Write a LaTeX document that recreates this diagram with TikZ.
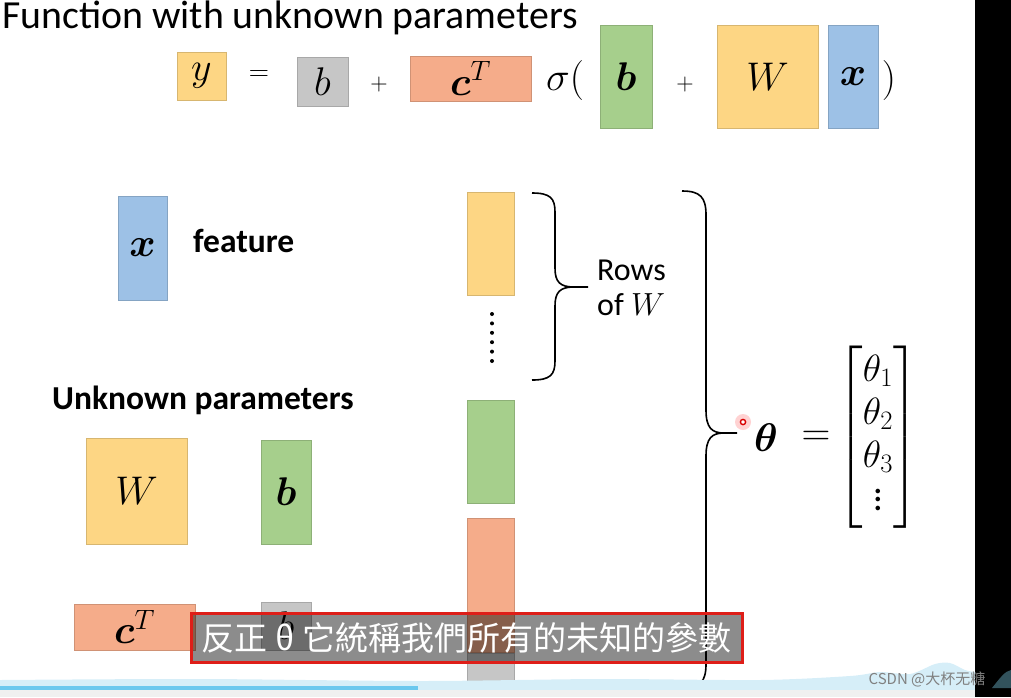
\RequirePackage{fix-cm}
\documentclass[tikz,border=0pt]{standalone}
\usepackage{amsmath, amssymb}
\usepackage{fontspec}
\setmainfont{Carlito}
\newfontfamily\cjktc{Noto Sans CJK TC}
\newfontfamily\cjksc{Noto Sans CJK SC}
\usepackage{xcolor}
\usepackage{tikz}
\usetikzlibrary{calc, positioning}

\definecolor{boxyellow}{RGB}{253,214,132}
\definecolor{boxblue}{RGB}{157,193,230}
\definecolor{boxgreen}{RGB}{166,207,140}
\definecolor{boxorange}{RGB}{245,172,138}
\definecolor{boxgray}{RGB}{198,198,198}
\definecolor{subred}{RGB}{222,30,24}
\definecolor{barblue}{RGB}{108,200,238}
\definecolor{bandblue}{RGB}{214,238,248}
\definecolor{hillslate}{RGB}{50,82,92}

\newcommand{\eqfont}{\fontsize{40}{44}\selectfont}
\newcommand{\tallvdots}{\vbox{\baselineskip=8.5pt \lineskiplimit=0pt \kern2pt\hbox{.}\hbox{.}\hbox{.}}}

\begin{document}
\begin{tikzpicture}[x=1pt, y=-1pt,
    pbox/.style={fill=#1, draw=#1!85!black, line width=0.8, inner sep=0pt, font=\eqfont},
    opsym/.style={inner sep=0pt, font=\fontsize{28}{32}\selectfont},
    plus/.style={inner sep=0pt, font=\fontsize{24}{28}\selectfont},
    lbl/.style={inner sep=0pt, anchor=base west, font=\fontsize{33.5}{38}\selectfont\bfseries}]
    \useasboundingbox (0,0) rectangle (1011,697);

    % Tiêu đề
    \node[anchor=base west, inner sep=0pt, font=\fontsize{39.8}{44}\selectfont] (title) at (2,28) {Function with unknown parameters};

    % Hàm số y = b + c^T sigma(b + W x)
    \node[pbox=boxyellow, minimum width=49, minimum height=48] (yv) at (201.5,76) {$y$};
    \node[opsym] (eqA) at (259,76) {$=$};
    \node[pbox=boxgray, minimum width=51, minimum height=49] (bs) at (322.5,81.5) {$b$};
    \node[plus] (plA) at (379,84) {$+$};
    \node[pbox=boxorange, minimum width=121, minimum height=45] (cT) at (470.5,78.5) {$\boldsymbol{c}^T$};
    \node[inner sep=0pt, font=\eqfont] (sig) at (565,80) {$\sigma($};
    \node[pbox=boxgreen, minimum width=52, minimum height=103] (bv) at (626,76.5) {$\boldsymbol{b}$};
    \node[plus] (plB) at (685,84) {$+$};
    \node[pbox=boxyellow, minimum width=101, minimum height=103] (Wm) at (767.5,76.5) {$W$};
    \node[pbox=boxblue, minimum width=50, minimum height=103] (xv) at (853,76.5) {$\boldsymbol{x}$};
    \node[inner sep=0pt, font=\eqfont] (rpar) at (889,80) {$)$};

    % Đặc trưng x
    \node[pbox=boxblue, minimum width=49, minimum height=104] (xf) at (142.5,248) {$\boldsymbol{x}$};
    \node[lbl] (feat) at (193,252) {feature};

    % Các tham số chưa biết
    \node[lbl] (unk) at (52,409) {Unknown parameters};
    \node[pbox=boxyellow, minimum width=101, minimum height=106] (Wl) at (136.5,491) {$W$};
    \node[pbox=boxgreen, minimum width=50, minimum height=104] (bl) at (286,492) {$\boldsymbol{b}$};
    \node[pbox=boxorange, minimum width=121, minimum height=46] (cl) at (134.5,627) {$\boldsymbol{c}^T$};
    \node[pbox=boxgray, minimum width=50, minimum height=48] (bsl) at (286,626) {$b$};

    % Cột các tham số xếp chồng
    \node[pbox=boxyellow, minimum width=47, minimum height=103] (rW) at (490.5,243.5) {};
    \foreach \k in {0,...,5}
        \fill (492,{314+9.4*\k}) circle (2);
    \node[pbox=boxgreen, minimum width=47, minimum height=103] (rb) at (490.5,451.5) {};
    \node[pbox=boxorange, minimum width=47, minimum height=134] (rc) at (490.5,585) {};
    \node[pbox=boxgray, minimum width=47, minimum height=42] (rbs) at (490.5,674) {};

    % Ngoặc nhỏ: các hàng của W
    \draw[line width=1.6] (532,193) .. controls (550,193) and (555,198) .. (555,212)
        -- (555,268) .. controls (555,282) and (560,287) .. (574,287) -- (588,287);
    \draw[line width=1.6] (574,287) .. controls (560,287) and (555,292) .. (555,306)
        -- (555,361) .. controls (555,375) and (550,380) .. (532,380);
    \node[anchor=base west, inner sep=0pt, font=\fontsize{32}{36}\selectfont] (rows) at (597,280) {Rows};
    \node[anchor=base west, inner sep=0pt, font=\fontsize{32}{36}\selectfont] (ofW) at (597,315) {of $W$};

    % Ngoặc lớn: tất cả tham số
    \draw[line width=1.6] (682,191) .. controls (700,191) and (706,197) .. (706,215)
        -- (706,410) .. controls (706,428) and (712,433) .. (724,433) -- (737,433);
    \draw[line width=1.6] (724,433) .. controls (712,433) and (706,438) .. (706,456)
        -- (706,664) .. controls (706,682) and (700,688) .. (682,688);

    % Điểm laser
    \fill[red!35, opacity=0.5] (743,422) circle (8);
    \draw[red!85!black, line width=1.4, fill=white] (743,422) circle (2.6);

    % theta = [theta_1, theta_2, theta_3, ...]
    \node[inner sep=0pt, font=\eqfont] (th) at (766,438) {$\boldsymbol{\theta}$};
    \node[inner sep=0pt, font=\eqfont] (eqB) at (816,438) {$=$};
    \node[inner sep=0pt, font=\fontsize{38}{43}\selectfont] (thv) at (878,437)
        {$\begin{bmatrix}\theta_1\\ \theta_2\\ \theta_3\\ \tallvdots\end{bmatrix}$};

    % Nền phía dưới (thanh video)
    \fill[bandblue] plot[smooth] coordinates {(0,680) (200,679) (420,681) (600,679) (760,680)
        (850,676) (880,672) (910,674) (935,664) (950,663) (965,670) (975,672)}
        -- (975,690) -- (0,690) -- cycle;
    \fill[barblue] (0,686) rectangle (418,690);
    \fill[black!6] (0,690) rectangle (975,697);
    \fill[black] (975,0) rectangle (1011,697);
    \fill[hillslate] (992,688) .. controls (1000,678) and (1005,671) .. (1011,670) -- (1011,688) -- cycle;

    % Phụ đề
    \node[draw=subred, line width=3, fill=black, fill opacity=0.45, text opacity=1,
        minimum width=551, minimum height=49, inner sep=0pt, text=white,
        font=\cjktc\fontsize{33}{36}\selectfont] (sub) at (466.5,637.5)
        {反正 θ 它統稱我們所有的未知的參數};
    \node[inner sep=0pt, text=black!50, font=\cjksc\fontsize{15}{17}\selectfont] (wm) at (927,679) {CSDN @大杯无糖};
\end{tikzpicture}
\end{document}
